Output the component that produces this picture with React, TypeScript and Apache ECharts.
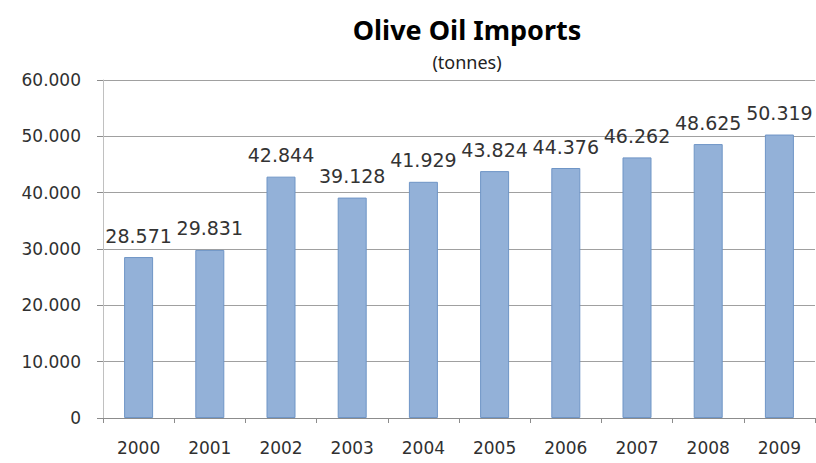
import React, { useEffect, useRef } from "react";
import * as echarts from "echarts";

const years = ["2000", "2001", "2002", "2003", "2004", "2005", "2006", "2007", "2008", "2009"];
const imports = [28571, 29831, 42844, 39128, 41929, 43824, 44376, 46262, 48625, 50319];
const yTicks = [0, 10000, 20000, 30000, 40000, 50000, 60000];

const fmt = (v: number) => {
  const s = String(Math.round(v));
  return s.replace(/\B(?=(\d{3})+(?!\d))/g, ".");
};

export default function App() {
  const ref = useRef<HTMLDivElement>(null);
  useEffect(() => {
    if (!ref.current) return;
    const chart = echarts.init(ref.current, null, { renderer: "svg" });
    chart.setOption({
      animation: false,
      backgroundColor: "#ffffff",
      title: {
        text: "Olive Oil Imports",
        subtext: "(tonnes)",
        left: 462,
        textAlign: "center",
        top: 11,
        itemGap: 10,
        textStyle: { fontFamily: "Noto Sans", fontWeight: "bold", fontSize: 27, color: "#000000" },
        subtextStyle: { fontFamily: "Noto Sans", fontSize: 18, color: "#222222" },
      },
      grid: { left: 103, right: 1, top: 80, bottom: 45, containLabel: false },
      xAxis: {
        type: "category",
        data: years,
        axisLine: { show: true, lineStyle: { color: "#8c8c8c", width: 1 } },
        axisTick: { show: true, length: 5, lineStyle: { color: "#8c8c8c" } },
        axisLabel: { fontFamily: "DejaVu Sans", fontSize: 17, color: "#303030", margin: 21 },
      },
      yAxis: {
        type: "value",
        min: yTicks[0],
        max: yTicks[yTicks.length - 1],
        interval: 10000,
        axisLine: { show: true, lineStyle: { color: "#c0c0c0", width: 1 } },
        axisTick: { show: true, length: 6, lineStyle: { color: "#8c8c8c" } },
        axisLabel: {
          fontFamily: "DejaVu Sans",
          fontSize: 17,
          color: "#303030",
          margin: 22,
          formatter: (v: number) => fmt(v),
        },
        splitLine: { show: true, lineStyle: { color: "#a0a0a0", width: 1 } },
      },
      series: [
        {
          type: "bar",
          data: imports,
          barWidth: 29,
          itemStyle: { color: "#93b1d8", borderColor: "#6f95c6", borderWidth: 1 },
          label: {
            show: true,
            position: "top",
            distance: 12,
            fontFamily: "DejaVu Sans",
            fontSize: 19,
            color: "#333333",
            formatter: (p: any) => fmt(p.value),
          },
        },
      ],
    });
    return () => chart.dispose();
  }, []);
  return <div ref={ref} style={{ width: 816, height: 463, position: "absolute", left: 0, top: 0 }} />;
}
